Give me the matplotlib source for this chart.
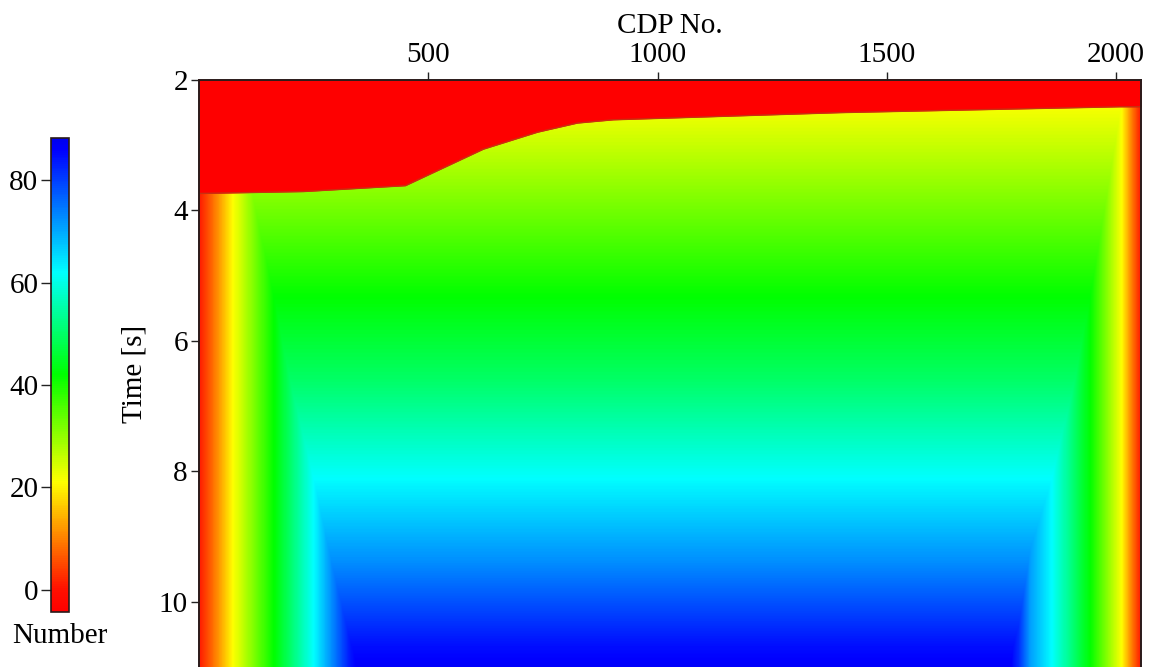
import numpy as np
import matplotlib
matplotlib.use("Agg")
import matplotlib.pyplot as plt
from matplotlib.colors import LinearSegmentedColormap, Normalize

plt.rcParams["font.family"] = ["Liberation Serif", "DejaVu Serif"]

# survey extent
cdp_min, cdp_max = 0, 2054
t_min, t_max = 2.0, 11.0

# top mute (above it the fold is zero)
mute_cdp = [0, 228, 450, 620, 738, 825, 903, 1398, 2008, 2054]
mute_time = [3.74, 3.71, 3.62, 3.06, 2.80, 2.66, 2.61, 2.50, 2.41, 2.41]

# full fold away from the line ends, by time
fold_time = [2.0, 2.46, 3.83, 5.32, 6.60, 8.12, 9.45, 10.67, 11.0]
fold_full = [19.0, 22.0, 31.5, 42.0, 50.0, 62.0, 73.0, 84.5, 86.5]

# fold build-up with distance (CDPs) from each end of the line
ramp_left_dist = [0, 36, 73, 163, 250, 283, 330, 420]
ramp_left_fold = [1, 10, 21, 42, 62, 71, 84, 100]
ramp_right_dist = [0, 20, 41, 110, 194, 241, 267, 340]
ramp_right_fold = [1, 10, 21, 42, 62, 71, 82, 100]

# colour scale of the fold number
cmap_values = [-4.3, 0, 21, 42, 62, 86, 88.2]
cmap_colors = ["#ff0000", "#ff1000", "#ffff00", "#00ff00", "#00ffff", "#0000ff", "#0000f0"]
cbar_ticks = [0, 20, 40, 60, 80]

x_ticks = [500, 1000, 1500, 2000]
y_ticks = [2, 4, 6, 8, 10]


def fold_map(nx=1400, nt=700):
    cdp = np.linspace(cdp_min, cdp_max, nx)
    t = np.linspace(t_min, t_max, nt)
    full = np.interp(t, fold_time, fold_full)[:, None]
    left = np.interp(cdp - cdp_min, ramp_left_dist, ramp_left_fold)[None, :]
    right = np.interp(cdp_max - cdp, ramp_right_dist, ramp_right_fold)[None, :]
    return np.minimum(np.minimum(full, left), right)


vmin, vmax = cmap_values[0], cmap_values[-1]
pos = [(v - vmin) / (vmax - vmin) for v in cmap_values]
cmap = LinearSegmentedColormap.from_list("fold", list(zip(pos, cmap_colors)))
norm = Normalize(vmin=vmin, vmax=vmax)

fig = plt.figure(figsize=(11.52, 6.67), dpi=100)
ax = fig.add_axes([199 / 1152, 0.0, 942 / 1152, 1 - 80 / 667])

im = ax.imshow(fold_map(), extent=[cdp_min, cdp_max, t_max, t_min], aspect="auto",
               cmap=cmap, norm=norm, interpolation="bilinear")
ax.fill_between(mute_cdp, t_min, mute_time, color="#fe0000", lw=0)
ax.plot(mute_cdp, mute_time, color="#c83010", lw=1.0)

ax.set_xlim(cdp_min, cdp_max)
ax.set_ylim(t_max, t_min)
ax.xaxis.set_label_position("top")
ax.xaxis.tick_top()
ax.set_xticks(x_ticks)
ax.set_yticks(y_ticks)
ax.set_xlabel("CDP No.", fontsize=21, labelpad=6)
ax.set_ylabel("Time [s]", fontsize=21, labelpad=8)
ax.tick_params(axis="both", direction="out", length=6, width=1.0, labelsize=21, color="#222222")
ax.tick_params(axis="x", pad=3)
ax.tick_params(axis="y", pad=2)
for side in ["top", "left", "right"]:
    ax.spines[side].set_color("#2a1a1a")
    ax.spines[side].set_linewidth(1.4)
ax.spines["bottom"].set_visible(False)

cax = fig.add_axes([51 / 1152, 1 - 612 / 667, 18 / 1152, (612 - 138) / 667])
cb = fig.colorbar(im, cax=cax, ticks=cbar_ticks)
cax.yaxis.set_ticks_position("left")
cax.tick_params(direction="out", length=7, width=1.0, labelsize=21, pad=2, color="#222222")
cb.outline.set_edgecolor("#2a1a1a")
cb.outline.set_linewidth(1.2)
fig.text(60 / 1152, 1 - 636 / 667, "Number", fontsize=21, ha="center", va="center")

fig.savefig("out.png", dpi=100)
